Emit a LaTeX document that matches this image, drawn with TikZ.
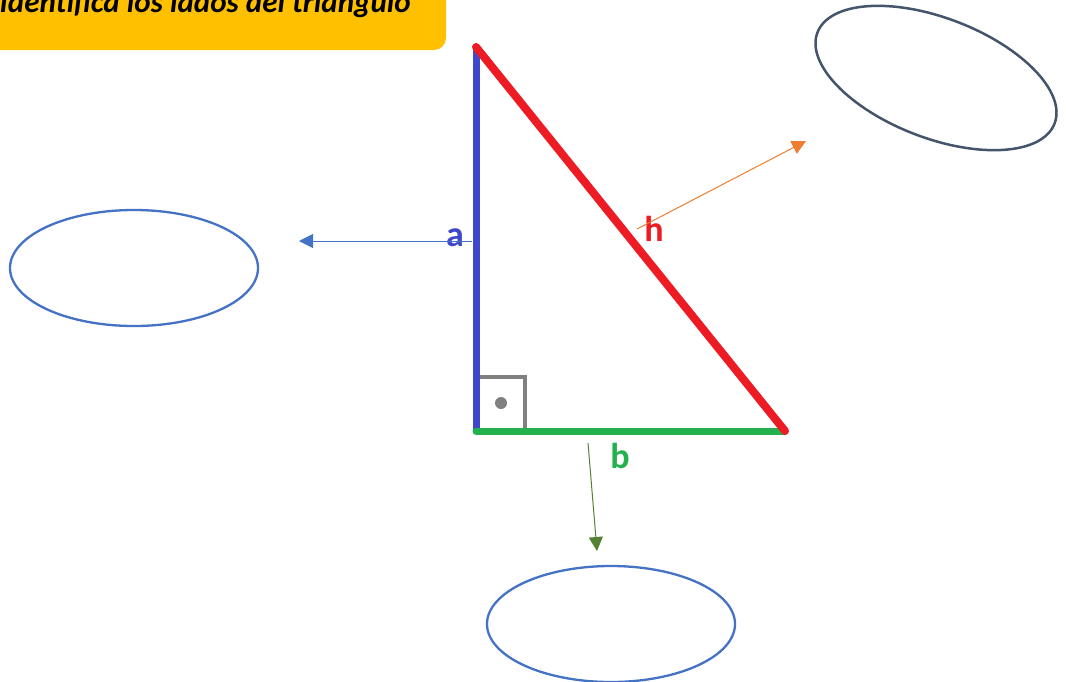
\documentclass[tikz,border=0pt]{standalone}
\usepackage{fontspec}
\setmainfont{Carlito}
\usetikzlibrary{arrows.meta}
\definecolor{banner}{HTML}{FFC000}
\definecolor{sideA}{HTML}{3F48CC}
\definecolor{sideH}{HTML}{ED1C24}
\definecolor{sideB}{HTML}{22B14C}
\definecolor{arrA}{HTML}{4472C4}
\definecolor{arrH}{HTML}{ED7D31}
\definecolor{arrB}{HTML}{548235}
\definecolor{slate}{HTML}{44546A}
\definecolor{markgray}{HTML}{808080}
\begin{document}
\begin{tikzpicture}[x=1pt,y=-1pt,
  side/.style={line width=7pt,line cap=round},
  pointer/.style={line width=1pt,-{Triangle[length=14pt,width=14pt]}},
  lbl/.style={font=\fontsize{36}{36}\selectfont\bfseries,inner sep=0pt}]
\useasboundingbox (0,0) rectangle (1066,681);
% banner
\fill[banner,rounded corners=12pt] (-20,-20) rectangle (446,50);
\node[anchor=base east,inner sep=0pt,font=\fontsize{31}{31}\selectfont\bfseries\itshape] (title) at (411,12) {Identifica los lados del triángulo};
% vertices
\coordinate (T) at (476,47);
\coordinate (C) at (476,431);
\coordinate (R) at (785,431);
% right angle mark
\draw[markgray,line width=4pt] (479,377) -- (525,377) -- (525,431);
\fill[markgray] (501,403) circle (6pt);
% sides
\draw[side,sideA] (T) -- (C);
\draw[side,sideB] (C) -- (R);
\draw[side,sideH,line width=8pt] (T) -- (R);
% labels
\node[lbl,text=sideA] (la) at (455,238) {a};
\node[lbl,text=sideH] (lh) at (654,229) {h};
\node[lbl,text=sideB] (lb) at (620,456) {b};
% answer ellipses
\draw[arrA,line width=2.3pt] (134,268) ellipse [x radius=124pt,y radius=58pt];
\draw[arrA,line width=2.3pt] (611,624) ellipse [x radius=124pt,y radius=58pt];
\draw[slate,line width=2.5pt,rotate around={-21:(936,78)}] (936,78) ellipse [x radius=127pt,y radius=60pt];
% pointer arrows
\coordinate (pa) at (472,241);
\coordinate (ea) at (299,241);
\coordinate (ph) at (637,229);
\coordinate (eh) at (806,141);
\coordinate (pb) at (588,443);
\coordinate (eb) at (597,551);
\draw[pointer,arrA] (pa) -- (ea);
\draw[pointer,arrH] (ph) -- (eh);
\draw[pointer,arrB] (pb) -- (eb);
\end{tikzpicture}
\end{document}
